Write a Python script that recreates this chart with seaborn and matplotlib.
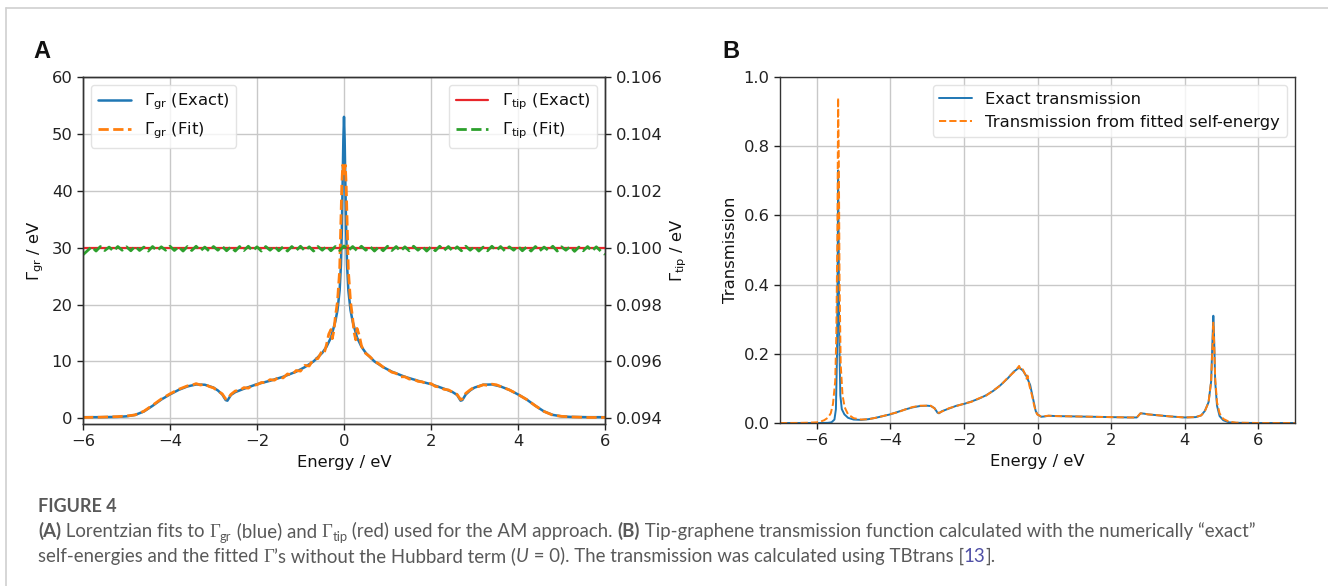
import matplotlib
matplotlib.use("Agg")
import matplotlib.pyplot as plt
import seaborn as sns
from matplotlib.lines import Line2D

# ---- panel A: Gamma_gr (left axis) ----
gr_e = [-6.0, -5.6, -5.2, -5.0, -4.8, -4.6, -4.4, -4.2, -4.0, -3.8, -3.6, -3.4, -3.2,
        -3.0, -2.9, -2.8, -2.72, -2.68, -2.6, -2.5, -2.3, -2.0, -1.7, -1.4, -1.1, -0.9,
        -0.7, -0.5, -0.4, -0.3, -0.2, -0.15, -0.1, -0.07, -0.05, -0.03, -0.015, 0.0,
        0.015, 0.03, 0.05, 0.07, 0.1, 0.15, 0.2, 0.3, 0.4, 0.5, 0.7, 0.9, 1.1, 1.4, 1.7,
        2.0, 2.3, 2.5, 2.6, 2.68, 2.72, 2.8, 2.9, 3.0, 3.2, 3.4, 3.6, 3.8, 4.0, 4.2, 4.4,
        4.6, 4.8, 5.0, 5.2, 5.6, 6.0]
gr_exact = [0.2, 0.2, 0.25, 0.35, 0.6, 1.2, 2.2, 3.3, 4.2, 5.0, 5.6, 5.95, 5.9,
            5.4, 4.9, 4.2, 3.2, 3.1, 4.1, 4.6, 5.2, 6.0, 6.6, 7.3, 8.2, 9.0,
            10.0, 11.5, 12.6, 14.2, 17.0, 19.0, 22.5, 27.0, 33.0, 42.0, 49.0, 53.0,
            49.0, 42.0, 33.0, 27.0, 22.5, 19.0, 17.0, 14.2, 12.6, 11.5, 10.0, 9.0, 8.2, 7.3, 6.6,
            6.0, 5.2, 4.6, 4.1, 3.1, 3.2, 4.2, 4.9, 5.4, 5.9, 5.95, 5.6, 5.0, 4.2, 3.3, 2.2,
            1.2, 0.6, 0.35, 0.25, 0.2, 0.2]

grfit_e = [-6.0, -5.6, -5.2, -5.0, -4.8, -4.6, -4.4, -4.2, -4.0, -3.8, -3.6, -3.5, -3.4,
           -3.3, -3.2, -3.1, -3.0, -2.9, -2.8, -2.72, -2.68, -2.6, -2.5, -2.4, -2.3, -2.2,
           -2.1, -2.0, -1.9, -1.8, -1.7, -1.6, -1.5, -1.4, -1.3, -1.2, -1.1, -1.0, -0.9,
           -0.8, -0.7, -0.6, -0.5, -0.45, -0.4, -0.35, -0.3, -0.27, -0.23, -0.2, -0.15,
           -0.1, -0.07, -0.05, -0.03, -0.015, 0.0, 0.015, 0.03, 0.05, 0.07, 0.1, 0.15,
           0.2, 0.23, 0.27, 0.3, 0.35, 0.4, 0.45, 0.5, 0.6, 0.7, 0.8, 0.9, 1.0, 1.1, 1.2,
           1.3, 1.4, 1.5, 1.6, 1.7, 1.8, 1.9, 2.0, 2.1, 2.2, 2.3, 2.4, 2.5, 2.6, 2.68,
           2.72, 2.8, 2.9, 3.0, 3.1, 3.2, 3.3, 3.4, 3.5, 3.6, 3.8, 4.0, 4.2, 4.4, 4.6,
           4.8, 5.0, 5.2, 5.6, 6.0]
gr_fit = [0.15, 0.2, 0.3, 0.4, 0.6, 1.25, 2.3, 3.4, 4.3, 5.1, 5.7, 5.8, 6.1,
          5.85, 6.0, 5.6, 5.35, 4.8, 4.3, 3.4, 3.3, 4.2, 4.8, 4.9, 5.4, 5.3,
          5.8, 5.9, 6.3, 6.25, 6.8, 6.7, 7.25, 7.1, 7.8, 7.6, 8.4, 8.3, 9.3,
          9.2, 10.4, 10.5, 11.9, 11.6, 13.0, 14.8, 15.6, 14.0, 15.5, 17.8, 20.5,
          26.0, 35.0, 41.0, 44.5, 43.8, 42.5, 43.8, 44.5, 41.0, 35.0, 26.0, 20.5,
          17.5, 15.2, 13.8, 15.8, 14.6, 12.8, 11.9, 11.4, 10.8, 10.0, 9.6, 9.0, 8.6, 8.1, 7.9,
          7.3, 7.3, 6.9, 6.9, 6.5, 6.4, 6.1, 6.1, 5.6, 5.5, 5.1, 5.0, 4.6, 4.2, 3.3,
          3.4, 4.4, 5.0, 5.5, 5.6, 5.9, 5.8, 6.0, 5.9, 5.6, 5.0, 4.2, 3.3, 2.2, 1.2,
          0.55, 0.35, 0.25, 0.15, 0.15]

# ---- panel A: Gamma_tip (right axis) ----
tip_e = [-6.0, 6.0]
tip_exact = [0.1, 0.1]
tipfit_e = [-6.0, -5.9, -5.8, -5.7, -5.6, -5.5, -5.4, -5.3, -5.2, -5.1, -5.0,
            -4.9, -4.8, -4.7, -4.6, -4.5, -4.4, -4.3, -4.2, -4.1, -4.0,
            -3.9, -3.8, -3.7, -3.6, -3.5, -3.4, -3.3, -3.2, -3.1, -3.0,
            -2.9, -2.8, -2.7, -2.6, -2.5, -2.4, -2.3, -2.2, -2.1, -2.0,
            -1.9, -1.8, -1.7, -1.6, -1.5, -1.4, -1.3, -1.2, -1.1, -1.0,
            -0.9, -0.8, -0.7, -0.6, -0.5, -0.4, -0.3, -0.2, -0.1, 0.0,
            0.1, 0.2, 0.3, 0.4, 0.5, 0.6, 0.7, 0.8, 0.9, 1.0,
            1.1, 1.2, 1.3, 1.4, 1.5, 1.6, 1.7, 1.8, 1.9, 2.0,
            2.1, 2.2, 2.3, 2.4, 2.5, 2.6, 2.7, 2.8, 2.9, 3.0,
            3.1, 3.2, 3.3, 3.4, 3.5, 3.6, 3.7, 3.8, 3.9, 4.0,
            4.1, 4.2, 4.3, 4.4, 4.5, 4.6, 4.7, 4.8, 4.9, 5.0,
            5.1, 5.2, 5.3, 5.4, 5.5, 5.6, 5.7, 5.8, 5.9, 6.0]
tip_fit = [0.09975, 0.09989, 0.10003, 0.09988, 0.10004, 0.09990, 0.10002, 0.09988, 0.10004, 0.09991, 0.10003,
           0.09989, 0.10005, 0.09990, 0.10002, 0.09988, 0.10004, 0.09989, 0.10003, 0.09991, 0.10005,
           0.09990, 0.10003, 0.09988, 0.10004, 0.09990, 0.10005, 0.09989, 0.10002, 0.09988, 0.10004,
           0.09991, 0.10005, 0.09989, 0.10003, 0.09988, 0.10004, 0.09990, 0.10005, 0.09989, 0.10003,
           0.09988, 0.10004, 0.09991, 0.10005, 0.09989, 0.10003, 0.09988, 0.10004, 0.09990, 0.10005,
           0.09989, 0.10003, 0.09988, 0.10004, 0.09991, 0.10005, 0.09989, 0.10004, 0.09990, 0.10006,
           0.09990, 0.10004, 0.09989, 0.10005, 0.09991, 0.10004, 0.09988, 0.10003, 0.09989, 0.10005,
           0.09990, 0.10004, 0.09988, 0.10003, 0.09989, 0.10005, 0.09991, 0.10004, 0.09988, 0.10003,
           0.09989, 0.10005, 0.09990, 0.10004, 0.09988, 0.10003, 0.09989, 0.10005, 0.09991, 0.10004,
           0.09988, 0.10002, 0.09989, 0.10005, 0.09990, 0.10004, 0.09988, 0.10003, 0.09991, 0.10005,
           0.09989, 0.10003, 0.09988, 0.10004, 0.09989, 0.10002, 0.09990, 0.10005, 0.09988, 0.10003,
           0.09991, 0.10004, 0.09987, 0.10002, 0.09989, 0.10004, 0.09988, 0.10003, 0.09988, 0.09976]

# ---- panel B: transmission ----
tr_e = [-7.0, -6.0, -5.7, -5.6, -5.52, -5.48, -5.45, -5.43, -5.42, -5.41, -5.39, -5.36,
        -5.32, -5.25, -5.15, -5.0, -4.8, -4.6, -4.4, -4.2, -4.0, -3.8, -3.6, -3.4, -3.2,
        -3.0, -2.9, -2.8, -2.72, -2.68, -2.6, -2.4, -2.2, -2.0, -1.8, -1.6, -1.4, -1.2,
        -1.0, -0.8, -0.65, -0.5, -0.4, -0.3, -0.2, -0.1, -0.05, 0.0, 0.1, 0.2, 0.3, 0.5,
        1.0, 1.5, 2.0, 2.5, 2.7, 2.75, 2.8, 2.9, 3.0, 3.3, 3.6, 4.0, 4.3, 4.45, 4.55, 4.65,
        4.72, 4.76, 4.78, 4.8, 4.83, 4.88, 4.95, 5.05, 5.2, 5.4, 6.0, 7.0]
tr_exact = [0.0, 0.0, 0.0005, 0.002, 0.01, 0.04, 0.2, 0.5, 0.73, 0.6, 0.25, 0.08,
            0.04, 0.025, 0.015, 0.01, 0.009, 0.011, 0.015, 0.02, 0.025, 0.032, 0.039, 0.045, 0.049,
            0.05, 0.049, 0.043, 0.03, 0.028, 0.034, 0.042, 0.05, 0.055, 0.062, 0.07, 0.08, 0.093,
            0.11, 0.13, 0.148, 0.16, 0.152, 0.135, 0.11, 0.06, 0.035, 0.025, 0.018, 0.019, 0.021, 0.02,
            0.019, 0.018, 0.017, 0.016, 0.016, 0.022, 0.028, 0.027, 0.025, 0.022, 0.019, 0.016, 0.017, 0.022, 0.035, 0.06,
            0.12, 0.25, 0.31, 0.25, 0.12, 0.05, 0.02, 0.008, 0.002, 0.0005, 0.0, 0.0]

trfit_e = [-7.0, -6.5, -6.2, -6.0, -5.9, -5.8, -5.7, -5.62, -5.56, -5.5, -5.47, -5.44,
           -5.42, -5.4, -5.38, -5.35, -5.3, -5.24, -5.15, -5.0, -4.8, -4.6, -4.4, -4.2,
           -4.0, -3.8, -3.6, -3.4, -3.2, -3.0, -2.9, -2.8, -2.72, -2.68, -2.6, -2.4, -2.2,
           -2.0, -1.8, -1.6, -1.4, -1.2, -1.0, -0.8, -0.65, -0.55, -0.5, -0.45, -0.4, -0.33,
           -0.3, -0.27, -0.22, -0.15, -0.1, -0.05, 0.0, 0.1, 0.2, 0.3, 0.5, 1.0, 1.5, 2.0,
           2.5, 2.7, 2.75, 2.8, 2.9, 3.0, 3.3, 3.6, 4.0, 4.3, 4.45, 4.55, 4.65, 4.72, 4.76,
           4.78, 4.8, 4.83, 4.88, 4.95, 5.05, 5.2, 5.4, 6.0, 7.0]
tr_fit = [0.0, 0.0003, 0.001, 0.002, 0.004, 0.008, 0.015, 0.028, 0.055, 0.12, 0.25, 0.55,
          0.94, 0.75, 0.4, 0.17, 0.08, 0.045, 0.025, 0.014, 0.01, 0.011, 0.015, 0.02,
          0.026, 0.031, 0.039, 0.046, 0.05, 0.05, 0.05, 0.042, 0.031, 0.029, 0.033, 0.043, 0.049,
          0.056, 0.061, 0.071, 0.079, 0.094, 0.109, 0.132, 0.146, 0.158, 0.165, 0.152, 0.155, 0.14,
          0.128, 0.137, 0.108, 0.08, 0.055, 0.033, 0.024, 0.019, 0.02, 0.021, 0.02, 0.019, 0.018, 0.017,
          0.016, 0.016, 0.022, 0.028, 0.027, 0.025, 0.022, 0.019, 0.016, 0.017, 0.022, 0.034, 0.06, 0.12, 0.23,
          0.29, 0.24, 0.13, 0.06, 0.028, 0.012, 0.004, 0.001, 0.0, 0.0]

blue, orange, green, red = "#1f77b4", "#ff7f0e", "#2ca02c", "#e8262b"
cap_grey, ref_blue = "#595959", "#4f4fa6"

sns.set_theme(style="ticks")
plt.rcParams["font.family"] = ["DejaVu Sans"]
fs = 11.8
plt.rcParams.update({
    "font.size": fs, "axes.labelsize": fs, "xtick.labelsize": fs, "ytick.labelsize": fs,
    "legend.fontsize": fs, "axes.edgecolor": "#333333", "axes.linewidth": 1.0,
    "xtick.color": "#222222", "ytick.color": "#222222", "text.color": "#111111",
    "axes.labelcolor": "#111111",
})

W, H = 1328, 586
fig = plt.figure(figsize=(W / 100, H / 100), dpi=100)
axA = fig.add_axes([83 / W, 1 - 424 / H, 522 / W, 347 / H])
axB = fig.add_axes([780 / W, 1 - 423 / H, 515 / W, 346 / H])

# panel A
sns.lineplot(x=gr_e, y=gr_exact, ax=axA, color=blue, lw=1.8, label=r"$\Gamma_{\mathrm{gr}}$ (Exact)")
sns.lineplot(x=grfit_e, y=gr_fit, ax=axA, color=orange, lw=2.0, linestyle="--",
             label=r"$\Gamma_{\mathrm{gr}}$ (Fit)")
axA.set_xlim(-6, 6)
axA.set_ylim(-1, 60)
axA.set_xticks([-6, -4, -2, 0, 2, 4, 6])
axA.set_yticks([0, 10, 20, 30, 40, 50, 60])
axA.grid(True, color="#c8c8c8", lw=1.0)
axA.set_xlabel("Energy / eV")
axA.set_ylabel(r"$\Gamma_{\mathrm{gr}}$ / eV")
axA.legend(loc="upper left", frameon=True, fancybox=True, framealpha=0.8, edgecolor="#dddddd")

axA2 = axA.twinx()
sns.lineplot(x=tip_e, y=tip_exact, ax=axA2, color=red, lw=1.6, label=r"$\Gamma_{\mathrm{tip}}$ (Exact)")
sns.lineplot(x=tipfit_e, y=tip_fit, ax=axA2, color=green, lw=2.0, linestyle="--",
             label=r"$\Gamma_{\mathrm{tip}}$ (Fit)")
axA2.set_ylim(0.0938, 0.106)
axA2.set_yticks([0.094, 0.096, 0.098, 0.100, 0.102, 0.104, 0.106])
axA2.set_yticklabels(["0.094", "0.096", "0.098", "0.100", "0.102", "0.104", "0.106"])
axA2.set_ylabel(r"$\Gamma_{\mathrm{tip}}$ / eV")
axA2.grid(False)
axA2.legend(loc="upper right", frameon=True, fancybox=True, framealpha=0.8, edgecolor="#dddddd")

# panel B
sns.lineplot(x=tr_e, y=tr_exact, ax=axB, color=blue, lw=1.4, label="Exact transmission")
sns.lineplot(x=trfit_e, y=tr_fit, ax=axB, color=orange, lw=1.4, linestyle="--",
             label="Transmission from fitted self-energy")
axB.set_xlim(-7, 7)
axB.set_ylim(0, 1)
axB.set_xticks([-6, -4, -2, 0, 2, 4, 6])
axB.set_yticks([0.0, 0.2, 0.4, 0.6, 0.8, 1.0])
axB.grid(True, color="#c8c8c8", lw=1.0)
axB.set_xlabel("Energy / eV")
axB.set_ylabel("Transmission")
axB.legend(loc="upper right", frameon=True, fancybox=True, framealpha=0.8, edgecolor="#dddddd")

for ax in (axA, axA2, axB):
    ax.tick_params(direction="out", length=4, width=1)

# panel letters
fig.text(42 / W, 1 - 52 / H, "A", ha="center", va="center", fontsize=17, fontweight="bold",
         family="Liberation Sans")
fig.text(731 / W, 1 - 52 / H, "B", ha="center", va="center", fontsize=17, fontweight="bold",
         family="Liberation Sans")

# frame lines of the figure box
fig.add_artist(Line2D([6 / W, 1], [1 - 8 / H, 1 - 8 / H], color="#d0d0d0", lw=1.2))
fig.add_artist(Line2D([6 / W, 6 / W], [0, 1 - 8 / H], color="#d0d0d0", lw=1.2))

# caption
renderer = fig.canvas.get_renderer()
cap_font = "Lato"


def text_width(s, **kw):
    t = fig.text(0, 0, s + "|", **kw)
    w1 = t.get_window_extent(renderer).width
    t.set_text("|")
    w2 = t.get_window_extent(renderer).width
    t.remove()
    return w1 - w2


def piece_style(kind, size):
    kw = dict(fontsize=size, color=cap_grey, family=cap_font)
    dy = 0
    if kind == "b":
        kw["fontweight"] = "bold"
    elif kind == "i":
        kw["fontstyle"] = "italic"
    elif kind == "g":
        kw["family"] = "Liberation Serif"
    elif kind == "s":
        kw["fontsize"] = size * 0.7
        dy = 4
    elif kind == "r":
        kw["color"] = ref_blue
    return kw, dy


def line_width(pieces, size):
    return sum(text_width(t, **piece_style(k, size)[0]) for t, k in pieces)


def caption_line(pieces, x0, ybase, size):
    x = x0
    for txt, kind in pieces:
        kw, dy = piece_style(kind, size)
        fig.text(x / W, 1 - (ybase + dy) / H, txt, ha="left", va="baseline", **kw)
        x += text_width(txt, **kw)


line1 = [("(A)", "b"), (" Lorentzian fits to ", "n"), ("Γ", "g"), ("gr", "s"),
         (" (blue) and ", "n"), ("Γ", "g"), ("tip", "s"), (" (red) used for the AM approach. ", "n"),
         ("(B)", "b"),
         (" Tip-graphene transmission function calculated with the numerically \u201cexact\u201d", "n")]
line2 = [("self-energies and the fitted ", "n"), ("Γ", "g"), ("\u2019s without the Hubbard term (", "n"),
         ("U", "i"), (" = 0). The transmission was calculated using TBtrans [", "n"),
         ("13", "r"), ("].", "n")]

size0 = 12.0
cap_size = size0 * (1252 - 38) / line_width(line1, size0)
fig.text(38 / W, 1 - 512 / H, "FIGURE 4", ha="left", va="baseline", fontsize=13,
         fontweight="bold", color=cap_grey, family=cap_font)
caption_line(line1, 38, 537, cap_size)
caption_line(line2, 38, 562, cap_size)

fig.savefig("out.png", dpi=100)
